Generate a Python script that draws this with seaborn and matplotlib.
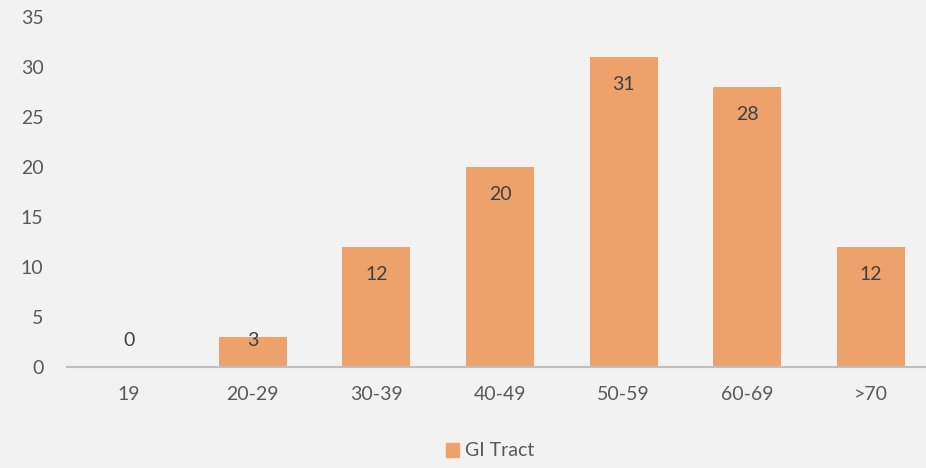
import matplotlib
matplotlib.use('Agg')
import matplotlib.pyplot as plt
from matplotlib.patches import Patch
import seaborn as sns

grupos_edad = ['19', '20-29', '30-39', '40-49', '50-59', '60-69', '>70']
casos = [0, 3, 12, 20, 31, 28, 12]
serie = 'GI Tract'

fondo = '#F2F2F2'
naranja = '#EDA26B'
texto = '#595959'

sns.set_style('white')
plt.rcParams['font.family'] = ['Lato', 'DejaVu Sans']

fig = plt.figure(figsize=(9.26, 4.68), dpi=100, facecolor=fondo)
ax = fig.add_axes([67 / 926, 101 / 468, 866 / 926, 350 / 468])
ax.set_facecolor(fondo)

sns.barplot(x=grupos_edad, y=casos, color=naranja, width=0.55, saturation=1,
            linewidth=0, ax=ax)

for i, v in enumerate(casos):
    ax.text(i, max(v - 2.7, 2.6), str(v), ha='center', va='center',
            fontsize=14, color='#404040')

ax.set_ylim(0, 35)
ax.set_xlim(-0.5, 6.5)
ax.set_yticks(range(0, 36, 5))
ax.tick_params(axis='both', length=0, labelsize=14, labelcolor=texto)
ax.tick_params(axis='x', pad=14)
ax.tick_params(axis='y', pad=17)
for lado in ['top', 'right', 'left']:
    ax.spines[lado].set_visible(False)
ax.spines['bottom'].set_color('#BFBFBF')
ax.spines['bottom'].set_linewidth(1.5)
ax.set_xlabel('')
ax.set_ylabel('')

fig.legend(handles=[Patch(color=naranja, label=serie)], loc='center',
           bbox_to_anchor=(490 / 926, 1 - 451 / 468), frameon=False,
           fontsize=14, labelcolor=texto, handlelength=0.7, handleheight=0.7,
           handletextpad=0.3)

fig.savefig('out.png', dpi=100, facecolor=fondo)
